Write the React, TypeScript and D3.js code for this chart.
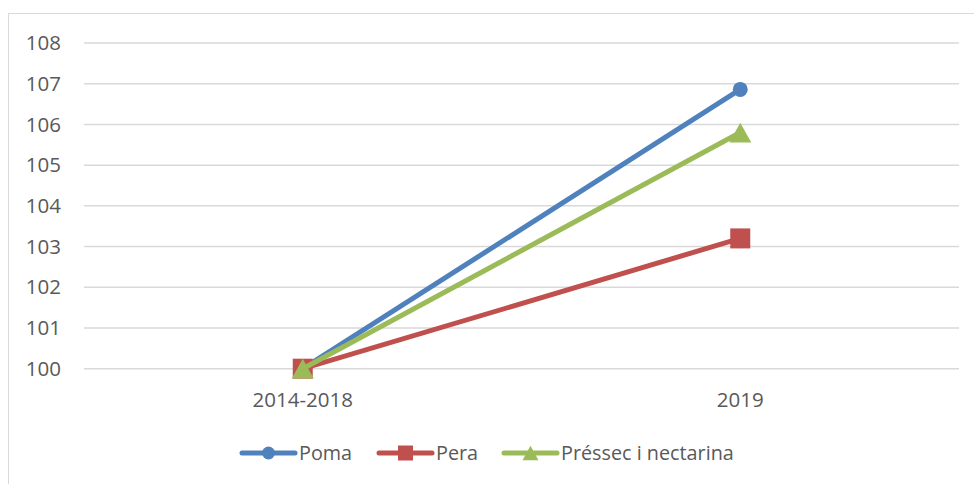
import React from "react";
import * as d3 from "d3";

const categories = ["2014-2018", "2019"];
const seriesNames = ["Poma", "Pera", "Préssec i nectarina"];
const pomaValues = [100, 106.86];
const peraValues = [100, 103.2];
const pressecValues = [100, 105.8];
const yTicks = [100, 101, 102, 103, 104, 105, 106, 107, 108];
const colors = ["#4F81BD", "#C0504D", "#9BBB59"];
const markers = ["circle", "square", "triangle"];

const W = 974;
const H = 484;
const FONT = "'Open Sans', sans-serif";
const FS = 20.5;
const LFS = 19.8;

function Marker({ type, x, y, size, color }: { type: string; x: number; y: number; size: number; color: string }) {
  if (type === "circle") return <circle cx={x} cy={y} r={size / 2} fill={color} />;
  if (type === "square")
    return <rect x={x - size / 2} y={y - size / 2} width={size} height={size} fill={color} />;
  const h = size * 0.9;
  return (
    <path
      d={`M${x},${y - h / 2} L${x + size / 2},${y + h / 2} L${x - size / 2},${y + h / 2} Z`}
      fill={color}
    />
  );
}

export default function App() {
  const x = d3.scaleBand().domain(categories).range([84, 959]);
  const y = d3.scaleLinear().domain([100, 108]).range([368.7, 43]);
  const series = [pomaValues, peraValues, pressecValues];
  const line = d3
    .line<number>()
    .x((_, i) => (x(categories[i]) as number) + x.bandwidth() / 2)
    .y((d) => y(d));
  const markerSizes = [15, 20, 22];
  const legendMarkerSizes = [13, 15, 16];
  const legendX = [242, 379, 504];
  const legendY = 453;

  return (
    <>
      <style>{`body{margin:0}`}</style>
      <svg width={W} height={H} style={{ display: "block", fontFamily: FONT }}>
        <rect x={0} y={0} width={W} height={H} fill="#fff" />
        <rect x={8.5} y={13.5} width={W + 10} height={H + 10} fill="none" stroke="#D9D9D9" strokeWidth={1} />
        {yTicks.map((t) => (
          <g key={t}>
            <line x1={84} x2={959} y1={y(t)} y2={y(t)} stroke="#D9D9D9" strokeWidth={1.5} />
            <text x={61} y={y(t)} dy="0.35em" textAnchor="end" fontSize={FS} fill="#595959">
              {t}
            </text>
          </g>
        ))}
        {categories.map((c) => (
          <text
            key={c}
            x={(x(c) as number) + x.bandwidth() / 2}
            y={400}
            dy="0.35em"
            textAnchor="middle"
            fontSize={FS}
            fill="#595959"
          >
            {c}
          </text>
        ))}
        {series.map((s, si) => (
          <g key={si}>
            <path d={line(s) || ""} fill="none" stroke={colors[si]} strokeWidth={5} strokeLinejoin="round" />
            {s.map((v, i) => (
              <Marker
                key={i}
                type={markers[si]}
                x={(x(categories[i]) as number) + x.bandwidth() / 2}
                y={y(v)}
                size={markerSizes[si]}
                color={colors[si]}
              />
            ))}
          </g>
        ))}
        {seriesNames.map((n, si) => (
          <g key={n}>
            <line
              x1={legendX[si]}
              x2={legendX[si] + 53}
              y1={legendY}
              y2={legendY}
              stroke={colors[si]}
              strokeWidth={5}
              strokeLinecap="round"
            />
            <Marker
              type={markers[si]}
              x={legendX[si] + 26.5}
              y={legendY}
              size={legendMarkerSizes[si]}
              color={colors[si]}
            />
            <text x={legendX[si] + 57} y={legendY} dy="0.35em" fontSize={LFS} fill="#595959">
              {n}
            </text>
          </g>
        ))}
      </svg>
    </>
  );
}
